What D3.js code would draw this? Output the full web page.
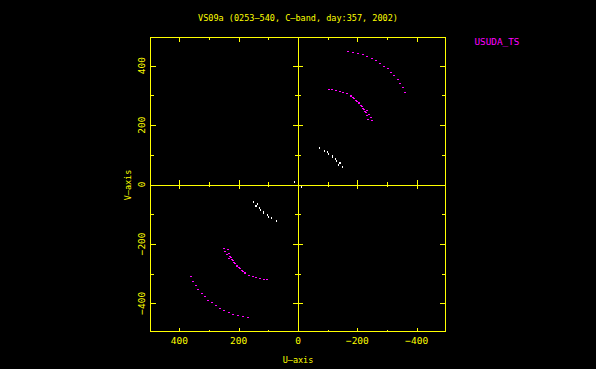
<!DOCTYPE html>
<html>
<head>
<meta charset="utf-8">
<script src="https://cdn.jsdelivr.net/npm/d3@7"></script>
<style>
  html, body { margin: 0; padding: 0; background: #000; }
  svg { display: block; }
  text { font-family: "DejaVu Sans Mono", monospace; }
</style>
</head>
<body>
<svg id="chart" width="596" height="369"></svg>
<script>
// ---- Data (U, V in kilo-wavelength units, one half-plane; conjugates are plotted too)
const outerU = [-169, -186, -203, -218, -233, -249, -263, -277, -289, -303, -314, -324, -337, -344, -354, -361];
const outerV = [447, 445, 441, 437, 431, 424, 417, 409, 399, 389, 377, 366, 353, 340, 326, 311];

const innerU = [-103, -116, -129, -142, -153, -166, -177, -178, -186, -188, -196, -198, -205, -206, -212, -215, -220, -224, -226, -231, -230, -238, -232, -245, -237, -250];
const innerV = [321, 320, 317, 314, 311, 306, 300, 297, 293, 289, 284, 281, 276, 272, 265, 262, 256, 254, 246, 249, 241, 237, 232, 225, 218, 214];

const whiteU = [-71, -88, -98, -104, -115, -115, -128, -129, -142, -139, -137, -151, -13];
const whiteV = [123, 114, 109, 104, 97, 92, 85, 79, 73, 71, 65, 58, -7];

const uTicks = [400, 200, 0, -200, -400];
const vTicks = [400, 200, 0, -200, -400];
const minorTicks = [-500, -400, -300, -200, -100, 100, 200, 300, 400, 500];

const titleText = "VS09a (0253\u2014540, C\u2014band, day:357, 2002)";
const legendLabel = "USUDA_TS";
const xTitle = "U\u2014axis";
const yTitle = "V\u2014axis";

// ---- Layout
const YEL = "#ffff00", MAG = "#ff00ff", WHT = "#ffffff";
const svg = d3.select("#chart");
svg.append("rect").attr("width", 596).attr("height", 369).attr("fill", "#000");

const L = 150.5, R = 445.5, T = 37.5, B = 331.5;
const x = d3.scaleLinear().domain([497, -497]).range([L, R]);
const y = d3.scaleLinear().domain([-495, 495]).range([B, T]);

const g = svg.append("g").attr("shape-rendering", "crispEdges");
const px = v => Math.round(v) + 0.5;

// frame
g.append("rect").attr("x", L).attr("y", T).attr("width", R - L).attr("height", B - T)
  .attr("fill", "none").attr("stroke", YEL).attr("stroke-width", 1);

// zero lines
g.append("line").attr("x1", L).attr("x2", R).attr("y1", px(y(0))).attr("y2", px(y(0)))
  .attr("stroke", YEL);
g.append("line").attr("y1", T).attr("y2", B).attr("x1", px(x(0))).attr("x2", px(x(0)))
  .attr("stroke", YEL);

const inRangeU = d => d > -497 && d < 497;
const inRangeV = d => d > -495 && d < 495;
const isMajor = d => d % 200 === 0;

// ticks along U (top, bottom, zero line)
minorTicks.filter(inRangeU).forEach(d => {
  const xx = px(x(d));
  const len = isMajor(d) ? 4 : 2;
  g.append("line").attr("x1", xx).attr("x2", xx).attr("y1", T).attr("y2", T + len).attr("stroke", YEL);
  g.append("line").attr("x1", xx).attr("x2", xx).attr("y1", B).attr("y2", B - len).attr("stroke", YEL);
  const zl = isMajor(d) ? 4.5 : 2.5;
  g.append("line").attr("x1", xx).attr("x2", xx).attr("y1", y(0) - zl).attr("y2", y(0) + zl).attr("stroke", YEL);
});
// ticks along V (left, right, zero line)
minorTicks.filter(inRangeV).forEach(d => {
  const yy = px(y(d));
  const len = isMajor(d) ? 5.5 : 3.5;
  g.append("line").attr("y1", yy).attr("y2", yy).attr("x1", L).attr("x2", L + len).attr("stroke", YEL);
  g.append("line").attr("y1", yy).attr("y2", yy).attr("x1", R).attr("x2", R - len).attr("stroke", YEL);
  const zl = isMajor(d) ? 5 : 3;
  g.append("line").attr("y1", yy).attr("y2", yy).attr("x1", x(0) - zl).attr("x2", x(0) + zl).attr("stroke", YEL);
});

// tick labels
const fmt = d => (d < 0 ? "\u2212" : "") + Math.abs(d);
svg.selectAll(".xl").data(uTicks).enter().append("text")
  .attr("x", d => x(d)).attr("y", 343.5)
  .attr("text-anchor", "middle").attr("font-size", 9.5).attr("fill", YEL)
  .text(fmt);
svg.selectAll(".yl").data(vTicks).enter().append("text")
  .attr("transform", d => `translate(${145},${y(d)}) rotate(-90)`)
  .attr("text-anchor", "middle").attr("font-size", 9.5).attr("fill", YEL)
  .text(fmt);

// axis titles
svg.append("text").attr("x", 298).attr("y", 362.5).attr("text-anchor", "middle")
  .attr("font-size", 8.5).attr("fill", YEL).text(xTitle);
svg.append("text").attr("transform", `translate(131,185) rotate(-90)`).attr("text-anchor", "middle")
  .attr("font-size", 8.5).attr("fill", YEL).text(yTitle);

// title
svg.append("text").attr("x", 298).attr("y", 20.5).attr("text-anchor", "middle")
  .attr("font-size", 8.5).attr("fill", YEL).attr("textLength", 200).attr("lengthAdjust", "spacingAndGlyphs")
  .text(titleText);

// legend
svg.append("text").attr("x", 474.5).attr("y", 45).attr("font-size", 9.2).attr("fill", MAG)
  .attr("textLength", 45).attr("lengthAdjust", "spacingAndGlyphs").text(legendLabel);

// points (with conjugate points)
function series(us, vs, color, w, h) {
  const pts = [];
  us.forEach((u, i) => { pts.push([u, vs[i]]); pts.push([-u, -vs[i]]); });
  g.append("g").selectAll("rect").data(pts).enter().append("rect")
    .attr("x", d => Math.round(x(d[0]) - w / 2)).attr("y", d => Math.round(y(d[1]) - h / 2))
    .attr("width", w).attr("height", h).attr("fill", color);
}
series(whiteU, whiteV, WHT, 1, 2);
series(outerU, outerV, MAG, 2, 1);
series(innerU, innerV, MAG, 2, 1);
</script>
</body>
</html>
